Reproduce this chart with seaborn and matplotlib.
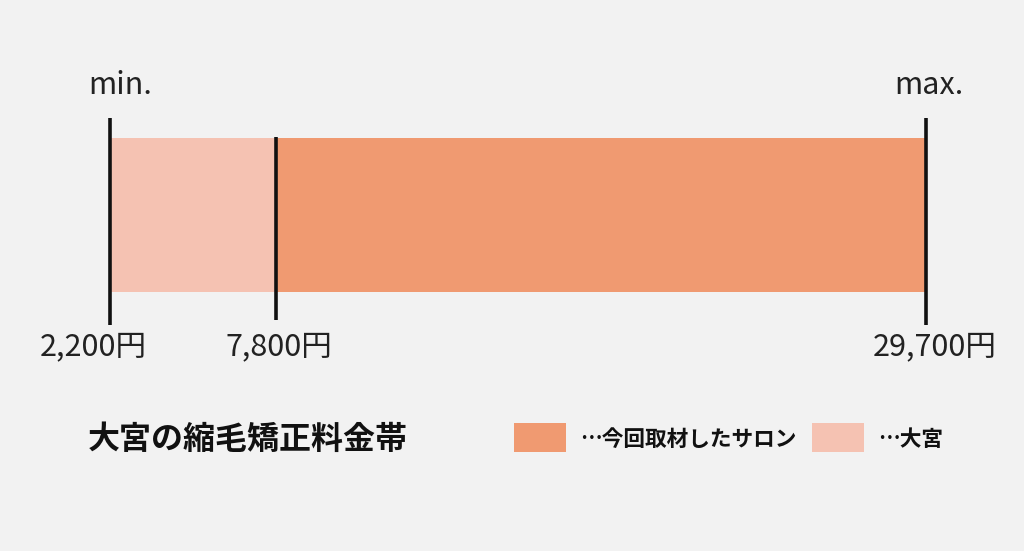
import matplotlib
matplotlib.use('Agg')
import matplotlib.pyplot as plt
import seaborn as sns
from matplotlib.patches import Rectangle

# -----------------------------
# Data
# -----------------------------
prices = [2200, 7800, 29700]
price_labels = ['2,200円', '7,800円', '29,700円']
end_labels = ['min.', 'max.']
series_names = ['今回取材したサロン', '大宮']
series_colors = ['#f09a71', '#f5c2b2']
title = '大宮の縮毛矯正料金帯'

# -----------------------------
# Style
# -----------------------------
sns.set_theme(style='white')
plt.rcParams['font.family'] = ['Noto Sans CJK JP', 'DejaVu Sans']
bg = '#f2f2f2'

W, H = 1024, 551
fig = plt.figure(figsize=(W / 100, H / 100), dpi=100, facecolor=bg)

# main axes: x in yen, y in pixels (top = 0)
ax = fig.add_axes([0, 0, 1, 1])
ax.set_facecolor(bg)
px_per_yen = (926 - 110) / (prices[2] - prices[0])
ax.set_xlim(prices[0] - 110 / px_per_yen, prices[0] + (W - 110) / px_per_yen)
ax.set_ylim(H, 0)
ax.axis('off')

# bars: 大宮 range (min -> salon start), salon range (salon start -> max)
bar_y, bar_h = 215, 154
ax.barh(bar_y, prices[1] - prices[0], left=prices[0], height=bar_h,
        color=series_colors[1], linewidth=0)
ax.barh(bar_y, prices[2] - prices[1], left=prices[1], height=bar_h,
        color=series_colors[0], linewidth=0)

# marker lines
tops = [118, 137, 118]
bottoms = [325, 320, 325]
for p, t, b in zip(prices, tops, bottoms):
    ax.vlines(p, t, b, color='#111111', linewidth=2.6)

# price labels
label_dx = [-17, 3, 9]
for p, lab, dx in zip(prices, price_labels, label_dx):
    x = ax.transData.transform((p, 0))[0] + dx
    fig.text(x / W, 1 - 347 / H, lab, ha='center', va='center',
             fontsize=22, color='#222222')

# min / max labels
fig.text(120 / W, 1 - 85 / H, end_labels[0], ha='center', va='center',
         fontsize=22, color='#222222')
fig.text(929 / W, 1 - 85 / H, end_labels[1], ha='center', va='center',
         fontsize=22, color='#222222')

# title
fig.text(88 / W, 1 - 440 / H, title, ha='left', va='center',
         fontsize=23, fontweight='bold', color='#111111')

# legend
leg_x = [514, 812]
leg_w, leg_top, leg_bot = 52, 423, 452
for x0, name, col in zip(leg_x, series_names, series_colors):
    fig.patches.append(Rectangle((x0 / W, 1 - leg_bot / H), leg_w / W,
                                 (leg_bot - leg_top) / H, color=col,
                                 transform=fig.transFigure, linewidth=0))
    fig.text((x0 + leg_w + 14) / W, 1 - 439 / H, '…' + name, ha='left',
             va='center', fontsize=15.6, fontweight='bold', color='#111111')

fig.savefig('out.png', dpi=100, facecolor=bg)
